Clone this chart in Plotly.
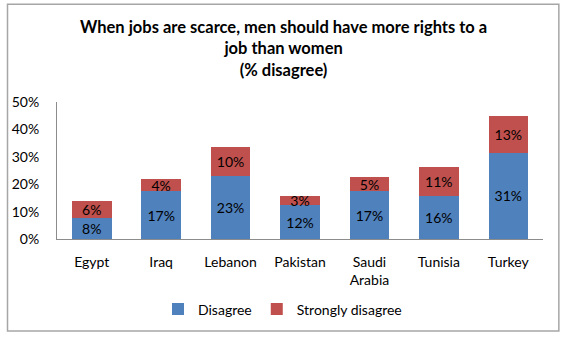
import plotly.graph_objects as go

# Survey results: share who disagree that men should have more rights to a job
countries = ["Egypt", "Iraq", "Lebanon", "Pakistan", "Saudi<br>Arabia", "Tunisia", "Turkey"]
disagree = [7.6, 17.4, 23.1, 12.4, 17.4, 15.6, 31.4]
strongly_disagree = [6.4, 4.4, 10.4, 3.2, 5.3, 10.6, 13.4]
y_ticks = [0, 10, 20, 30, 40, 50]
y_tick_labels = ["0%", "10%", "20%", "30%", "40%", "50%"]
title_text = "<b>When jobs are scarce, men should have more rights to a<br>job than women<br>(% disagree)</b>"

FONT = "Lato"
BLUE = "#4F81BD"
RED = "#C0504D"

fig = go.Figure()
fig.add_trace(go.Bar(
    name="Disagree", x=countries, y=disagree,
    marker=dict(color=BLUE, line=dict(width=0)),
    texttemplate="%{y:.0f}%", textposition="inside", insidetextanchor="middle",
    textfont=dict(family=FONT, size=14, color="black"),
))
fig.add_trace(go.Bar(
    name="Strongly disagree", x=countries, y=strongly_disagree,
    marker=dict(color=RED, line=dict(width=0)),
    texttemplate="%{y:.0f}%", textposition="inside", insidetextanchor="middle",
    textfont=dict(family=FONT, size=14, color="black"),
))

L, R, T, B = 52, 18, 102, 96
W, H = 561, 338
pw, ph = W - L - R, H - T - B


def py(px_from_top):
    """Paper y coordinate for a pixel row measured from the top of the page."""
    return (T + ph - px_from_top) / ph


fig.update_layout(
    width=W, height=H,
    margin=dict(l=L, r=R, t=T, b=B),
    barmode="stack", bargap=0.43,
    paper_bgcolor="white", plot_bgcolor="white",
    font=dict(family=FONT, size=14, color="black"),
    uniformtext=dict(minsize=14, mode="show"),
    xaxis=dict(
        showline=True, linecolor="#8C8C8C", linewidth=1,
        ticks="", tickfont=dict(family=FONT, size=14),
        showgrid=False, ticklabelstandoff=10,
    ),
    yaxis=dict(
        range=[0, 50], tickvals=y_ticks, ticktext=y_tick_labels,
        showline=True, linecolor="#8C8C8C", linewidth=1,
        ticks="", showgrid=False, zeroline=False,
        tickfont=dict(family=FONT, size=14), ticklabelstandoff=14,
    ),
    legend=dict(
        orientation="h", x=0.464, xanchor="center",
        y=py(314), yanchor="middle",
        font=dict(family=FONT, size=14), traceorder="normal",
        itemwidth=30,
    ),
    showlegend=True,
)

# Three-line chart title
fig.add_annotation(
    text=title_text, xref="paper", yref="paper",
    x=(W / 2 - L) / pw, xanchor="center", y=py(13), yanchor="top",
    showarrow=False, align="center",
    font=dict(family=FONT, size=16.5, color="black"),
)

# Chart border
fig.add_shape(
    type="rect", xref="paper", yref="paper",
    x0=(2 - L) / pw, x1=(W - 2 - L) / pw,
    y0=py(H - 2), y1=py(2),
    line=dict(color="#A6A6A6", width=1.5), layer="below",
)

fig.write_html("out.html")
